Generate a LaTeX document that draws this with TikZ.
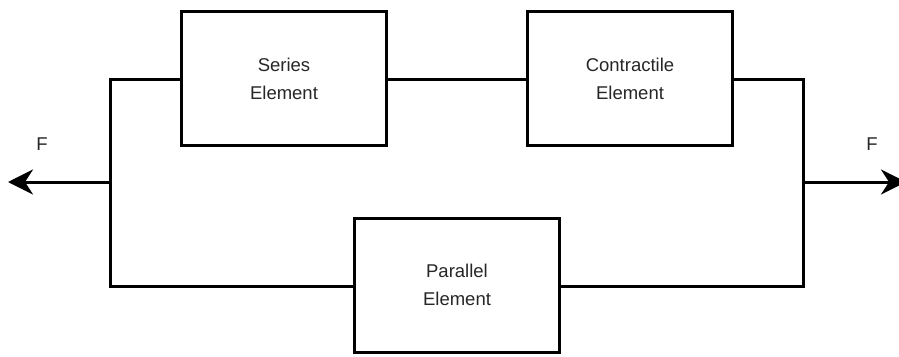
\documentclass[tikz,border=0pt]{standalone}
\usepackage{fontspec}
\setmainfont{Liberation Sans}
\usetikzlibrary{arrows.meta}
\begin{document}
\begin{tikzpicture}[x=1pt,y=-1pt,
  elem/.style={draw=black,line width=3pt,minimum width=205pt,minimum height=134pt,inner sep=0pt,align=center,
    font=\fontsize{18.5}{28}\selectfont,text=black!85},
  wire/.style={draw=black,line width=3pt},
  force/.style={draw=black,line width=3pt,-{Stealth[length=25pt,width=25pt,inset=8pt]}},
  lbl/.style={font=\fontsize{18.5}{22}\selectfont,text=black!85,inner sep=0pt}]
\useasboundingbox (0,0) rectangle (899,356);
\node[elem] (ser) at (284,78.5) {Series\\Element};
\node[elem] (con) at (630,78.5) {Contractile\\Element};
\node[elem] (par) at (457,285.3) {Parallel\\Element};
\coordinate (lt) at (110.7,79);
\coordinate (lb) at (110.7,286);
\coordinate (lm) at (110.7,182);
\coordinate (rt) at (803.3,79);
\coordinate (rb) at (803.3,286);
\coordinate (rm) at (803.3,182);
\coordinate (la) at (8,182);
\coordinate (ra) at (906,182);
\draw[wire] (ser.west |- lt) -- (lt) -- (lb) -- (par.west |- lb);
\draw[wire] (ser.east |- lt) -- (con.west |- lt);
\draw[wire] (con.east |- rt) -- (rt) -- (rb) -- (par.east |- rb);
\draw[force] (lm) -- (la);
\draw[force] (rm) -- (ra);
\node[lbl] (fl) at (42,144) {F};
\node[lbl] (fr) at (872,144) {F};
\end{tikzpicture}
\end{document}
